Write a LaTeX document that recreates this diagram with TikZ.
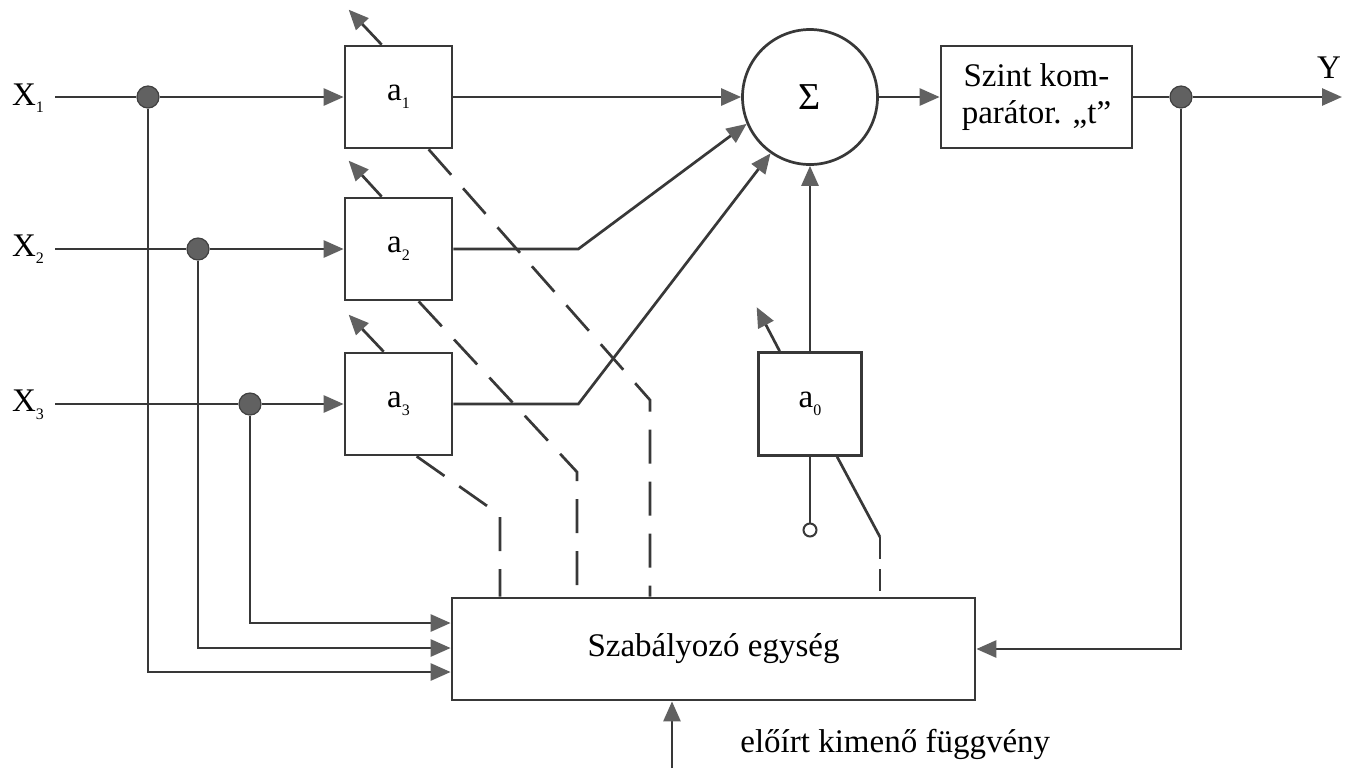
\documentclass[tikz,border=0pt]{standalone}
\usepackage{fontspec}
\setmainfont{Liberation Serif}
\usetikzlibrary{arrows.meta,calc}
\newcommand\sbx[1]{\raisebox{-0.5ex}{\fontsize{8}{9}\selectfont #1}}
\begin{document}
\begin{tikzpicture}[x=0.5pt,y=-0.5pt,
  ln/.style={line width=1.35pt, draw=black!78},
  tip/.style={-{Triangle[length=10pt,width=8.5pt,color=black!62]}},
  arr/.style={ln,tip},
  dsh/.style={ln, dash pattern=on 17pt off 9pt},
  blk/.style={draw=black!78, line width=1.35pt, inner sep=0pt, minimum width=53.5pt, minimum height=51pt, font=\fontsize{16.5}{18.5}\selectfont},
  dot/.style={circle, fill=black!62, draw=black!75, line width=0.6pt, minimum size=11pt, inner sep=0pt},
  lbl/.style={font=\fontsize{16.5}{19}\selectfont, inner sep=0pt},
]
\useasboundingbox (0,0) rectangle (1346,768);
\fill[white] (0,0) rectangle (1346,768);

% blocks
\node[blk] (a1) at (398.5,97) {a\sbx{1}};
\node[blk] (a2) at (398.5,249) {a\sbx{2}};
\node[blk] (a3) at (398.5,404) {a\sbx{3}};
\node[blk, minimum width=51.5pt, minimum height=51.5pt] (a0) at (810,404) {a\sbx{0}};
\node[blk, circle, minimum size=67.5pt, font=\fontsize{19}{20}\selectfont] (sum) at (810,97) {Σ};
\node[blk, minimum width=95.5pt, align=center] (comp) at (1036.5,97) {Szint kom-\\parátor. „t”};
\node[blk, minimum width=261.5pt] (ctrl) at (713.5,649) {Szabályozó egység};
\node[circle, draw=black!78, line width=1pt, minimum size=6.5pt, inner sep=0pt] (oc) at (810,530) {};

% labels
\node[lbl] (x1) at (28,98) {X\sbx{1}};
\node[lbl] (x2) at (28,249) {X\sbx{2}};
\node[lbl] (x3) at (28,405) {X\sbx{3}};
\node[lbl] (ylab) at (1329,68) {Y};
\node[lbl, anchor=base west] (elo) at (740,752) {előírt kimenő függvény};

% coordinates
\coordinate (in1) at (55,97);
\coordinate (in2) at (55,249);
\coordinate (in3) at (55,404);
\coordinate (yend) at (1342,97);
\coordinate (fin) at (672,768);
\coordinate (b1) at (650,400);
\coordinate (b2) at (577,472);
\coordinate (b3) at (500,515);
\coordinate (s0) at (880,537);

% dots
\node[dot] (d1) at (148,97) {};
\node[dot] (d2) at (198,249) {};
\node[dot] (d3) at (250,404) {};
\node[dot] (dy) at (1181,97) {};

% inputs
\draw[ln] (in1) -- (d1);
\draw[ln] (in2) -- (d2);
\draw[ln] (in3) -- (d3);
\draw[arr] (d1) -- (a1.west);
\draw[arr] (d2) -- (a2.west);
\draw[arr] (d3) -- (a3.west);

% to summation
\draw[arr] (a1.east) -- (sum.west);
\draw[arr] (a2.east) -- ++(125,0) -- (sum.203);
\draw[arr] (a3.east) -- ++(125,0) -- (sum.235);
\draw[arr] (a0.north) -- (sum.south);
\draw[arr] (sum.east) -- (comp.west);
\draw[ln] (comp.east) -- (dy);
\draw[arr] (dy) -- (yend);

% feedback and controller inputs
\draw[arr] (dy) |- (ctrl.east);
\draw[arr] (d1) |- ($(ctrl.west)+(0,23)$);
\draw[arr] (d2) |- ($(ctrl.west)+(0,-1)$);
\draw[arr] (d3) |- ($(ctrl.west)+(0,-26)$);
\draw[arr] (fin) -- (fin |- ctrl.south);

% parameter arrows
\draw[arr] ($(a1.north west)+(38,0)$) -- ++(-33,-35);
\draw[arr] ($(a2.north west)+(38,0)$) -- ++(-33,-36);
\draw[arr] ($(a3.north west)+(40,0)$) -- ++(-35,-37);
\draw[arr] ($(a0.north west)+(22.5,0)$) -- ++(-23,-44);

% dashed control lines
\draw[dsh] ($(a1.south west)+(85,0)$) -- (b1) -- (b1 |- ctrl.north);
\draw[dsh] ($(a2.south west)+(75,0)$) -- (b2) -- (b2 |- ctrl.north);
\draw[dsh] ($(a3.south west)+(73,0)$) -- (b3) -- (b3 |- ctrl.north);
\draw[ln] ($(a0.south west)+(80,0)$) -- (s0);
\draw[ln, dash pattern=on 11pt off 5pt] (s0) -- (s0 |- ctrl.north);
\draw[ln] (a0.south) -- (oc);
\end{tikzpicture}
\end{document}
